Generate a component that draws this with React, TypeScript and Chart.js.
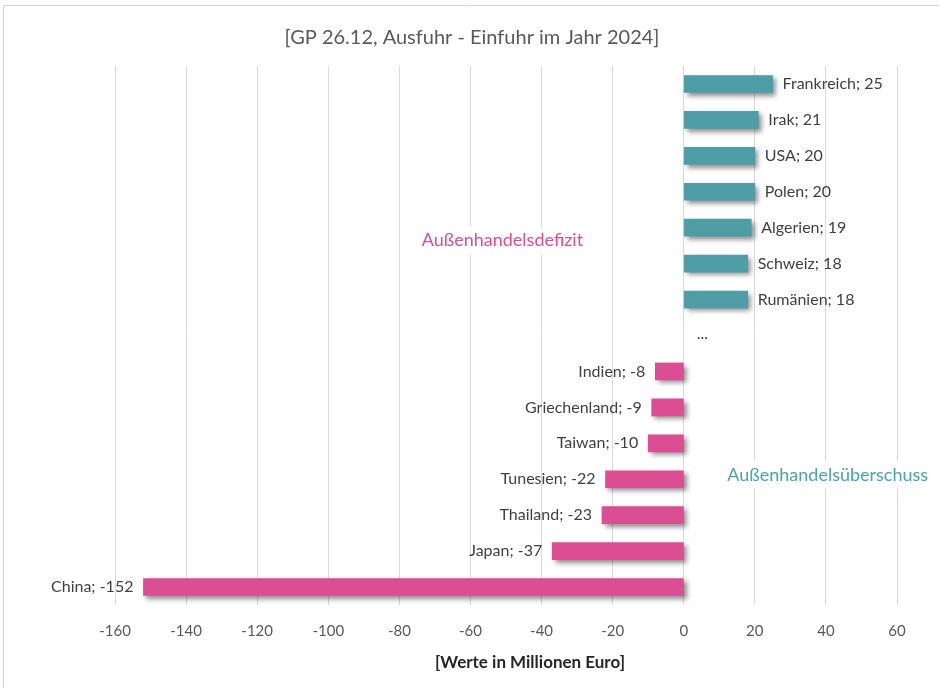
import React, { useEffect, useRef } from "react";
import { Chart, registerables } from "chart.js";

Chart.register(...registerables);

const categories = [
  "Frankreich", "Irak", "USA", "Polen", "Algerien", "Schweiz", "Rumänien", "...",
  "Indien", "Griechenland", "Taiwan", "Tunesien", "Thailand", "Japan", "China",
];
const values: (number | null)[] = [25, 21, 20, 20, 19, 18, 18, null, -8, -9, -10, -22, -23, -37, -152];
const xMin = -160;
const xMax = 60;
const xStep = 20;
const chartTitle = "[GP 26.12, Ausfuhr - Einfuhr im Jahr 2024]";
const xAxisTitle = "[Werte in Millionen Euro]";
const deficitLabel = "Außenhandelsdefizit";
const surplusLabel = "Außenhandelsüberschuss";

const TEAL = "#4F9DA6";
const PINK = "#DB4E94";
const FONT = "Lato, 'Open Sans', sans-serif";

const framePlugin = {
  id: "frame",
  beforeDraw(chart: any) {
    const ctx = chart.ctx;
    ctx.save();
    ctx.fillStyle = "#ffffff";
    ctx.fillRect(0, 0, chart.width, chart.height);
    ctx.strokeStyle = "#D6D6D6";
    ctx.lineWidth = 1;
    ctx.beginPath();
    ctx.moveTo(3.5, chart.height);
    ctx.lineTo(3.5, 5.5);
    ctx.lineTo(chart.width, 5.5);
    ctx.stroke();
    ctx.restore();
  },
  afterDraw(chart: any) {
    const ctx = chart.ctx;
    ctx.save();
    ctx.textAlign = "center";
    ctx.textBaseline = "middle";
    ctx.fillStyle = "#595959";
    ctx.font = `20px ${FONT}`;
    ctx.fillText(chartTitle, 472, 38);
    ctx.fillStyle = "#262626";
    ctx.font = `bold 17px ${FONT}`;
    ctx.fillText(xAxisTitle, 530, 663);
    ctx.restore();
  },
};

const shadowPlugin = {
  id: "barShadow",
  beforeDatasetsDraw(chart: any) {
    const ctx = chart.ctx;
    ctx.save();
    ctx.shadowColor = "rgba(0,0,0,0.45)";
    ctx.shadowBlur = 5;
    ctx.shadowOffsetX = 3;
    ctx.shadowOffsetY = 3;
  },
  afterDatasetsDraw(chart: any) {
    chart.ctx.restore();
  },
};

const labelPlugin = {
  id: "barLabels",
  afterDatasetsDraw(chart: any) {
    const ctx = chart.ctx;
    const meta = chart.getDatasetMeta(0);
    const xScale = chart.scales.x;
    const zero = xScale.getPixelForValue(0);
    ctx.save();
    ctx.font = `16px ${FONT}`;
    ctx.fillStyle = "#404040";
    ctx.textBaseline = "middle";
    meta.data.forEach((el: any, i: number) => {
      const v = values[i];
      const y = el.y;
      if (v === null) {
        ctx.textAlign = "left";
        ctx.fillText(categories[i], zero + 13, y - 2);
        return;
      }
      const text = `${categories[i]}; ${v}`;
      if (v >= 0) {
        ctx.textAlign = "left";
        ctx.fillText(text, el.x + 10, y);
      } else {
        ctx.textAlign = "right";
        ctx.fillText(text, el.x - 10, y);
      }
    });
    ctx.restore();
  },
};

const annotationPlugin = {
  id: "annotations",
  afterDatasetsDraw(chart: any) {
    const ctx = chart.ctx;
    const xs = chart.scales.x;
    const ys = chart.scales.y;
    const items = [
      { text: deficitLabel, x: xs.getPixelForValue(-51), y: ys.getPixelForValue(4.36), color: PINK },
      { text: surplusLabel, x: xs.getPixelForValue(40.5), y: ys.getPixelForValue(10.88), color: "#4AA3AB" },
    ];
    ctx.save();
    ctx.font = `18px ${FONT}`;
    ctx.textAlign = "center";
    ctx.textBaseline = "middle";
    items.forEach((it) => {
      const w = ctx.measureText(it.text).width;
      ctx.fillStyle = "#ffffff";
      ctx.fillRect(it.x - w / 2 - 6, it.y - 14, w + 12, 28);
      ctx.fillStyle = it.color;
      ctx.fillText(it.text, it.x, it.y);
    });
    ctx.restore();
  },
};

export default function App() {
  const ref = useRef<HTMLCanvasElement | null>(null);

  useEffect(() => {
    if (!ref.current) return;
    const chart = new Chart(ref.current, {
      type: "bar",
      data: {
        labels: categories,
        datasets: [
          {
            data: values as any,
            backgroundColor: values.map((v) => ((v ?? 0) >= 0 ? TEAL : PINK)),
            barThickness: 17,
            borderWidth: 0,
          },
        ],
      },
      options: {
        indexAxis: "y",
        animation: false,
        responsive: false,
        maintainAspectRatio: false,
        layout: { padding: { left: 115, right: 42, top: 66, bottom: 0 } },
        plugins: {
          legend: { display: false },
          tooltip: { enabled: false },
          title: { display: false },
        },
        scales: {
          x: {
            type: "linear",
            min: xMin,
            max: xMax,
            afterFit(scale: any) {
              scale.height = 83;
            },
            ticks: {
              stepSize: xStep,
              color: "#595959",
              font: { family: FONT, size: 15 },
              padding: 17,
            },
            grid: { color: "#D9D9D9", lineWidth: 1, drawTicks: false },
            border: { display: false },
            title: { display: false },
          },
          y: {
            type: "category",
            display: false,
            grid: { display: false },
          },
        },
      },
      plugins: [framePlugin, shadowPlugin, labelPlugin, annotationPlugin],
    });
    return () => chart.destroy();
  }, []);

  return (
    <div style={{ position: "fixed", left: 0, top: 0, width: 939, height: 688 }}>
      <canvas ref={ref} width={939} height={688} style={{ width: 939, height: 688, display: "block" }} />
    </div>
  );
}
